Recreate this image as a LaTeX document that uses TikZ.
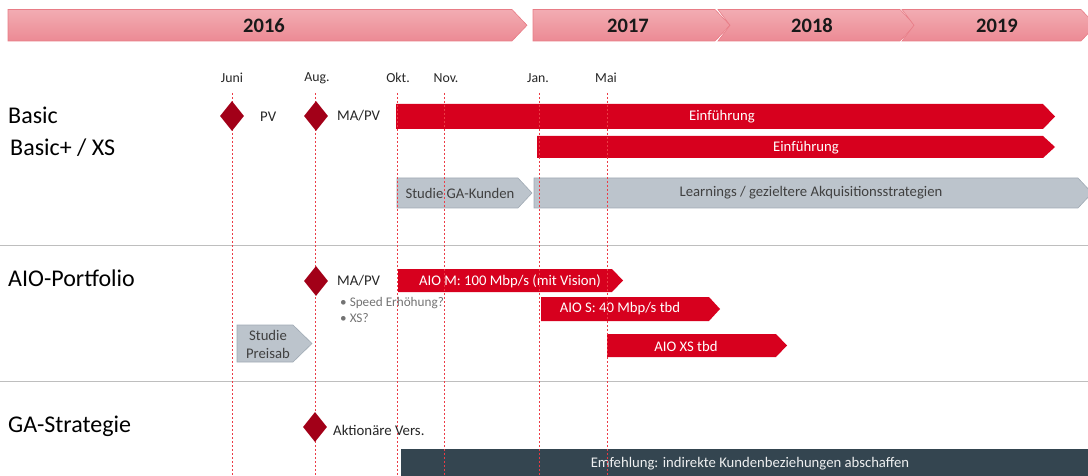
\documentclass[tikz,border=0pt]{standalone}
\usepackage{fontspec}
\setmainfont{Carlito}
\usepackage{xcolor}
\definecolor{BarRed}{RGB}{215,0,30}
\definecolor{MileRed}{RGB}{162,0,24}
\definecolor{YearTop}{RGB}{242,172,178}
\definecolor{YearBot}{RGB}{236,138,148}
\definecolor{YearLine}{RGB}{232,124,134}
\definecolor{StudyGray}{RGB}{188,196,204}
\definecolor{StudyLine}{RGB}{160,170,180}
\definecolor{SlateBlue}{RGB}{52,69,80}
\definecolor{GridRed}{RGB}{236,60,70}
\definecolor{SepGray}{RGB}{190,190,190}
\usepackage{tikz}
\usetikzlibrary{shapes.geometric,positioning}

% chevron bar: style, left x, tip x, top y, bottom y, tip depth, notch depth
\newcommand{\chev}[7]{%
  \path[#1] (#2,#4) -- ({#3-#6},#4) -- (#3,{(#4+#5)/2}) -- ({#3-#6},#5)
    -- (#2,#5) -- ({#2+#7},{(#4+#5)/2}) -- cycle;
}

\begin{document}
\begin{tikzpicture}[x=1pt,y=-1pt,
  every node/.style={inner sep=0pt},
  yearbar/.style={draw=YearLine, line width=0.6pt, top color=YearTop, bottom color=YearBot},
  yeartext/.style={font=\fontsize{20.5}{24}\selectfont\bfseries, text=black!90},
  redbar/.style={fill=BarRed},
  graybar/.style={fill=StudyGray, draw=StudyLine, line width=0.6pt},
  bartext/.style={text=white, font=\fontsize{14.7}{17}\selectfont},
  graytext/.style={text=black!75, font=\fontsize{14.7}{17}\selectfont},
  month/.style={text=black!85, font=\fontsize{13.8}{16}\selectfont},
  rowlabel/.style={anchor=west, font=\fontsize{24}{28}\selectfont},
  note/.style={anchor=west, text=black!85, font=\fontsize{14.8}{17}\selectfont},
  bullet/.style={anchor=west, text=black!55, font=\fontsize{13.2}{15}\selectfont},
  milestone/.style={diamond, fill=MileRed, minimum width=24pt, minimum height=30pt},
  gridline/.style={GridRed, line width=0.6pt, dash pattern=on 2pt off 2pt},
  separator/.style={SepGray, line width=0.8pt}
]
\useasboundingbox (0,0) rectangle (1088,476);

% years
\chev{yearbar}{8}{527}{9.5}{41}{15}{0}
\chev{yearbar}{533}{730}{9.5}{41}{15}{0}
\chev{yearbar}{718}{915}{9.5}{41}{15}{12}
\chev{yearbar}{902}{1096}{9.5}{41}{15}{12}
\node[yeartext] (y2016) at (264,25.5) {2016};
\node[yeartext] (y2017) at (628,25.5) {2017};
\node[yeartext] (y2018) at (812,25.5) {2018};
\node[yeartext] (y2019) at (997,25.5) {2019};

% months
\foreach \m/\x/\t in {juni/232/Juni, aug/317/Aug., okt/398/Okt., nov/446/Nov., jan/538/Jan., mai/606/Mai}
  \node[month] (\m) at (\x,78) {\t};

% rows
\node[rowlabel] (basic) at (8,115) {Basic};
\node[rowlabel] (basicxs) at (10,148) {Basic+ / XS};
\node[rowlabel] (aio) at (8,278) {AIO-Portfolio};
\node[rowlabel] (ga) at (8,426) {GA-Strategie};
\draw[separator] (0,245) -- (1088,245);
\draw[separator] (0,381) -- (1088,381);

% Basic
\chev{redbar}{396}{1055}{104}{129}{12}{0}
\node[bartext] (einf1) at (722,117) {Einführung};
\chev{redbar}{537}{1055}{136}{158}{12}{0}
\node[bartext] (einf2) at (806,147.5) {Einführung};
\chev{graybar}{397}{532}{178}{208}{14}{0}
\node[graytext] (gakunden) at (460,193) {Studie GA-Kunden};
\chev{graybar}{534}{1092}{178}{208}{14}{0}
\node[graytext] (learn) at (811,193) {Learnings / gezieltere Akquisitionsstrategien};

% AIO
\chev{redbar}{398}{623}{269}{292}{11}{0}
\node[bartext] (aiom) at (510,281) {AIO M: 100 Mbp/s (mit Vision)};
\chev{redbar}{541}{720}{297}{321}{11}{0}
\node[bartext] (aios) at (620,309) {AIO S: 40 Mbp/s tbd};
\chev{redbar}{607}{787}{334}{357}{11}{0}
\node[bartext] (aioxs) at (686,346) {AIO XS tbd};
\chev{graybar}{237}{312}{325}{362}{19}{0}
\node[graytext, align=center, font=\fontsize{14.7}{18}\selectfont] (preisab) at (268,344) {Studie\\Preisab};

% GA
\fill[SlateBlue] (401,449) rectangle (1088,476);
\node[text=white!92!SlateBlue, font=\fontsize{14.7}{17}\selectfont] (abschaffen) at (750,464) {Emfehlung: indirekte Kundenbeziehungen abschaffen};

% month lines
\foreach \x in {232, 315, 397, 444, 539, 607}
  \draw[gridline] (\x,93) -- (\x,476);

% milestones
\node[milestone] (pv1) at (232,116) {};
\node[note] (pv1l) at (260,117) {PV};
\node[milestone] (mapv1) at (316,116) {};
\node[note] (mapv1l) at (337,116) {MA/PV};
\node[milestone] (mapv2) at (316,281) {};
\node[note] (mapv2l) at (337,281) {MA/PV};
\node[bullet] (speed) at (340,303) {\textbullet\ Speed Erhöhung?};
\node[bullet] (xs) at (340,318) {\textbullet\ XS?};
\node[milestone] (aktion) at (315,427) {};
\node[note] (aktionl) at (333,430) {Aktionäre Vers.};
\end{tikzpicture}
\end{document}
